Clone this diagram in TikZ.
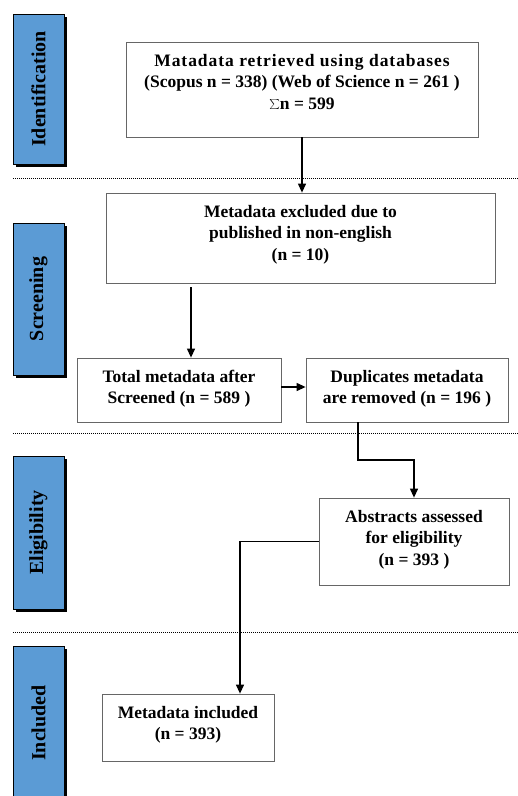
\documentclass[tikz,border=0pt]{standalone}
\usepackage{fontspec}
\setmainfont{Liberation Serif}
\usetikzlibrary{arrows.meta}

\definecolor{phaseblue}{HTML}{5B9BD5}
\newcommand{\boxtxt}[3]{\parbox[c][#2][t]{#1}{\centering\vspace*{12pt}#3}}

\begin{document}
\begin{tikzpicture}[x=1pt, y=-1pt,
  box/.style={draw=black!60, line width=0.8pt, inner sep=0pt, fill=white,
    font=\fontsize{17.5}{21.5}\selectfont\bfseries},
  phase/.style={fill=phaseblue, draw=black, line width=0.6pt},
  phasetext/.style={rotate=90, font=\fontsize{20}{24}\selectfont\bfseries},
  flow/.style={-{Triangle[length=9pt,width=8pt]}, line width=1.2pt},
  stage/.style={line width=0.9pt, dash pattern=on 1pt off 1pt}]

\useasboundingbox (0,0) rectangle (518,796);
\clip (0,0) rectangle (518,796);

% phase bars on the left
\foreach \top/\bot/\name/\tag in {14/164/Identification/ident, 223/375/Screening/screen,
    456/609/Eligibility/elig, 646/800/Included/incl} {
  \fill (16,\top+3) rectangle (67,\bot+3);
  \draw[phase] (13,\top) rectangle (64,\bot);
  \node[phasetext] (\tag) at (38.5,{(\top+\bot)/2}) {\name};
}

% dotted stage separators
\foreach \y in {178,433,632}
  \draw[stage] (13,\y) -- (518,\y);

% boxes
\node[box] (retrieved) at (302,89.5) {\boxtxt{352pt}{95pt}{{\addfontfeature{LetterSpace=5.5}Matadata retrieved using databases}\\
  (Scopus n = 338) (Web of Science n = 261 )\\ $\textstyle\sum$n = 599}};
\node[box] (excluded) at (300.5,238) {\boxtxt{389pt}{90pt}{Metadata excluded due to\\
  published in non-english\\ (n = 10)}};
\node[box] (total) at (179,390) {\boxtxt{204pt}{64pt}{Total metadata after\\ Screened (n = 589 )}};
\node[box] (duplicates) at (407,390) {\boxtxt{202pt}{64pt}{Duplicates metadata\\ are removed (n = 196 )}};
\node[box] (abstracts) at (414,541.5) {\boxtxt{190pt}{87pt}{Abstracts assessed\\ for eligibility\\ (n = 393 )}};
\node[box] (included) at (188,727.5) {\boxtxt{172pt}{67pt}{Metadata included\\ (n = 393)}};

\coordinate (drop) at ([xshift=12pt]total.north);
\coordinate (bend) at (414,460);

% connectors
\draw[flow] (retrieved.south) -- (retrieved.south |- excluded.north);
\draw[flow] ([yshift=-4pt]drop |- excluded.south) -- (drop);
\draw[flow] ([yshift=3pt]total.east) -- ([yshift=3pt]duplicates.west);
\draw[flow] ([xshift=-49pt]duplicates.south) |- (bend) -- (abstracts.north);
\draw[flow] (abstracts.west) -| ([xshift=52pt]included.north);

\end{tikzpicture}
\end{document}
